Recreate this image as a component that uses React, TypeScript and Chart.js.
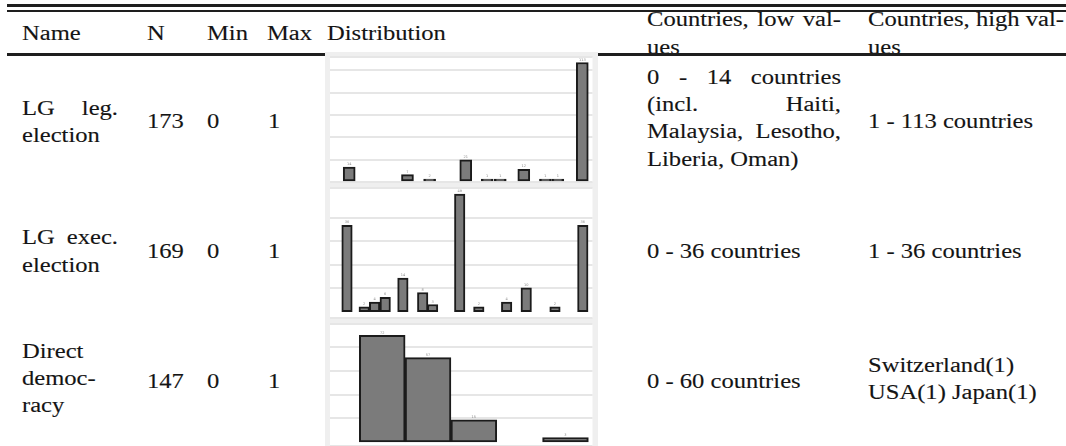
import React, { useEffect, useRef } from 'react';
import Chart from 'chart.js/auto';

// ---- data ----
const headers = ['Name', 'N', 'Min', 'Max', 'Distribution'];
const headerLow = ['Countries, low val-', 'ues'];
const headerHigh = ['Countries, high val-', 'ues'];

const rowNames = [['LG leg.', 'election'], ['LG exec.', 'election'], ['Direct', 'democ-', 'racy']];
const rowN = ['173', '169', '147'];
const rowMin = ['0', '0', '0'];
const rowMax = ['1', '1', '1'];
const lowValues = [
  ['0 - 14 countries', '(incl. Haiti,', 'Malaysia, Lesotho,', 'Liberia, Oman)'],
  ['0 - 36 countries'],
  ['0 - 60 countries'],
];
const highValues = [['1 - 113 countries'], ['1 - 36 countries'], ['Switzerland(1)', 'USA(1) Japan(1)']];

// distribution of "LG leg. election"
const legValues = [0, 0.25, 0.345, 0.5, 0.592, 0.648, 0.749, 0.842, 0.895, 1];
const legCounts = [14, 7, 2, 21, 1, 1, 12, 1, 1, 113];
// distribution of "LG exec. election"
const execValues = [0, 0.073, 0.117, 0.162, 0.237, 0.321, 0.363, 0.478, 0.559, 0.677, 0.76, 0.882, 1];
const execCounts = [36, 2, 4, 6, 14, 8, 3, 49, 2, 4, 10, 2, 36];
// histogram of "Direct democracy" (bin centres)
const directBins = [0.1, 0.3, 0.5, 0.7, 0.9];
const directCounts = [72, 57, 15, 0, 3];

// ---- font detection ----
const CANDIDATES: [string, number][] = [
  ['Liberation Serif', 0.662],
  ['Tinos', 0.662],
  ['Times New Roman', 0.662],
  ['Noto Serif', 0.714],
  ['DejaVu Serif', 0.729],
];
const mctx = document.createElement('canvas').getContext('2d') as CanvasRenderingContext2D;
function w(font: string, text: string) {
  mctx.font = font;
  return mctx.measureText(text).width;
}
function has(fam: string) {
  const t = 'mmmwwiillQ1 - 113 countries';
  return (
    w(`40px "${fam}", monospace`, t) !== w('40px monospace', t) ||
    w(`40px "${fam}", sans-serif`, t) !== w('40px sans-serif', t)
  );
}
let FAMILY = 'serif';
let CAP = 0.68;
for (const [f, c] of CANDIDATES) {
  if (has(f)) {
    FAMILY = `"${f}"`;
    CAP = c;
    break;
  }
}
const FS = 13.6 / CAP; // match cap height of reference
const FONT = `${FS}px ${FAMILY}`;
const SX = 165 / w(FONT, '1 - 113 countries');
mctx.font = FONT;
const fm = mctx.measureText('Hg');
const ASC = (fm as any).fontBoundingBoxAscent || FS * 0.89;
const DESC = (fm as any).fontBoundingBoxDescent || FS * 0.22;
const BASE_OFF = (FS - (ASC + DESC)) / 2 + ASC;

const LH = 27.3;
const INK = '#141414';

function Line(props: { x: number; bl: number; text: string; w?: number; justify?: boolean }) {
  const { x, bl, text, w: width, justify } = props;
  return (
    <div
      style={{
        position: 'absolute',
        left: x,
        top: bl - BASE_OFF,
        width: width ? width / SX : undefined,
        whiteSpace: 'nowrap',
        fontFamily: FAMILY,
        fontSize: FS,
        lineHeight: FS + 'px',
        color: INK,
        WebkitTextStroke: '0.12px ' + INK,
        transform: `scaleX(${SX})`,
        transformOrigin: 'left top',
        textAlign: justify ? 'justify' : 'left',
        textAlignLast: justify ? 'justify' : 'auto',
        zIndex: 1,
      } as React.CSSProperties}
    >
      {text}
    </div>
  );
}

function lines(list: string[], x: number, first: number, width: number, justifyUpTo: number, key: string, lh = LH) {
  return list.map((t, i) => (
    <Line key={key + i} x={x} bl={first + i * lh} text={t} w={width} justify={i < justifyUpTo} />
  ));
}

// ---- chart ----
const bgPlugin = {
  id: 'panelBg',
  beforeDraw(chart: any) {
    const { ctx, chartArea, width, height } = chart;
    ctx.save();
    ctx.fillStyle = '#efefef';
    ctx.fillRect(0, 0, width, height);
    ctx.fillStyle = '#ffffff';
    ctx.fillRect(chartArea.left, chartArea.top, chartArea.right - chartArea.left, chartArea.bottom - chartArea.top);
    ctx.restore();
  },
};

const labelPlugin = {
  id: 'tinyLabels',
  afterDatasetsDraw(chart: any) {
    const { ctx } = chart;
    const meta = chart.getDatasetMeta(0);
    const ds = chart.data.datasets[0];
    ctx.save();
    ctx.font = '3.5px "DejaVu Sans"';
    ctx.fillStyle = '#8a8a8a';
    ctx.textAlign = 'center';
    ctx.textBaseline = 'bottom';
    meta.data.forEach((el: any, i: number) => {
      const v = ds.data[i].y;
      if (v == null) return;
      ctx.fillText(String(v), el.x, el.y - 1);
    });
    ctx.restore();
  },
};

type HistProps = {
  left: number; top: number; width: number; height: number;
  xs: number[]; counts: number[];
  xMin: number; xMax: number; yMin: number; yMax: number; step: number;
  thickness: number; pad: { left: number; right: number; top: number; bottom: number };
};

function MiniHist(p: HistProps) {
  const ref = useRef<HTMLCanvasElement>(null);
  useEffect(() => {
    const chart = new Chart(ref.current as HTMLCanvasElement, {
      type: 'bar',
      data: {
        datasets: [
          {
            data: p.xs.map((x, i) => ({ x, y: p.counts[i] === 0 ? null : p.counts[i] })) as any,
            backgroundColor: '#7b7b7b',
            borderColor: '#1b1b1b',
            borderWidth: 2,
            borderSkipped: false,
            barThickness: p.thickness,
            minBarLength: 3,
          } as any,
        ],
      },
      options: {
        responsive: false,
        animation: false,
        devicePixelRatio: 1,
        layout: { padding: p.pad },
        plugins: { legend: { display: false }, tooltip: { enabled: false } },
        scales: {
          x: { type: 'linear', min: p.xMin, max: p.xMax, offset: false, display: false },
          y: {
            min: p.yMin,
            max: p.yMax,
            border: { display: false },
            grid: { color: '#e6e6e6', lineWidth: 2, drawTicks: false },
            ticks: { display: false, stepSize: p.step },
          },
        },
      } as any,
      plugins: [bgPlugin, labelPlugin],
    });
    return () => chart.destroy();
  }, []);
  return (
    <canvas
      ref={ref}
      width={p.width}
      height={p.height}
      style={{ position: 'absolute', left: p.left, top: p.top, width: p.width, height: p.height, zIndex: 3 }}
    />
  );
}

// ---- layout ----
const colX = [22, 147, 207, 267, 327];
const lowX = 647;
const highX = 868;
const nameFirst = [115, 244.5, 358.3];
const numBl = [128.5, 258.3, 388.3];
const lowFirst = [84, 258.3, 388.3];
const highFirst = [128.5, 258.3, 372];

export default function App() {
  const rule = (top: number, h: number, key: string) => (
    <div key={key} style={{ position: 'absolute', left: 7, top, width: 1070, height: h, background: '#1e1e1e', zIndex: 2 }} />
  );
  return (
    <div style={{ position: 'fixed', left: 0, top: 0, width: 1066, height: 446, background: '#fff', overflow: 'hidden' }}>
      {rule(4.2, 2.4, 'r1')}
      {rule(9.6, 2.4, 'r2')}
      {rule(53, 2.6, 'r3')}

      {headers.map((h, i) => (
        <Line key={'h' + i} x={colX[i]} bl={40.5} text={h} />
      ))}
      {lines(headerLow, lowX, 26.5, 194, 1, 'hl')}
      {lines(headerHigh, highX, 26.5, 195, 1, 'hh')}

      {rowNames.map((nm, r) => lines(nm, colX[0], nameFirst[r], 96, r < 2 ? 1 : 0, 'n' + r, r === 2 ? 27 : LH))}
      {rowN.map((t, r) => <Line key={'N' + r} x={colX[1]} bl={numBl[r]} text={t} />)}
      {rowMin.map((t, r) => <Line key={'mi' + r} x={colX[2]} bl={numBl[r]} text={t} />)}
      {rowMax.map((t, r) => <Line key={'ma' + r} x={colX[3] + 1} bl={numBl[r]} text={t} />)}
      {lowValues.map((l, r) => lines(l, lowX, lowFirst[r], 194, l.length > 1 ? l.length - 1 : 0, 'lo' + r))}
      {highValues.map((l, r) => lines(l, highX, highFirst[r], 195, 0, 'hi' + r, 27.7))}

      <MiniHist
        left={325} top={52} width={273} height={133}
        xs={legValues} counts={legCounts}
        xMin={-0.0824} xMax={1.0438} yMin={0} yMax={118.2} step={21.1}
        thickness={12} pad={{ left: 5, right: 5.5, top: 5, bottom: 3 }}
      />
      <MiniHist
        left={325} top={184} width={273} height={136}
        xs={execValues} counts={execCounts}
        xMin={-0.0721} xMax={1.0411} yMin={-2.6} yMax={51.5} step={9.8}
        thickness={10.5} pad={{ left: 5, right: 5.5, top: 4, bottom: 2 }}
      />
      <MiniHist
        left={325} top={320} width={273} height={126}
        xs={directBins} counts={directCounts}
        xMin={-0.128} xMax={1.018} yMin={-2.7} yMax={80} step={16}
        thickness={45.8} pad={{ left: 5, right: 5.5, top: 3.5, bottom: 0 }}
      />
    </div>
  );
}
